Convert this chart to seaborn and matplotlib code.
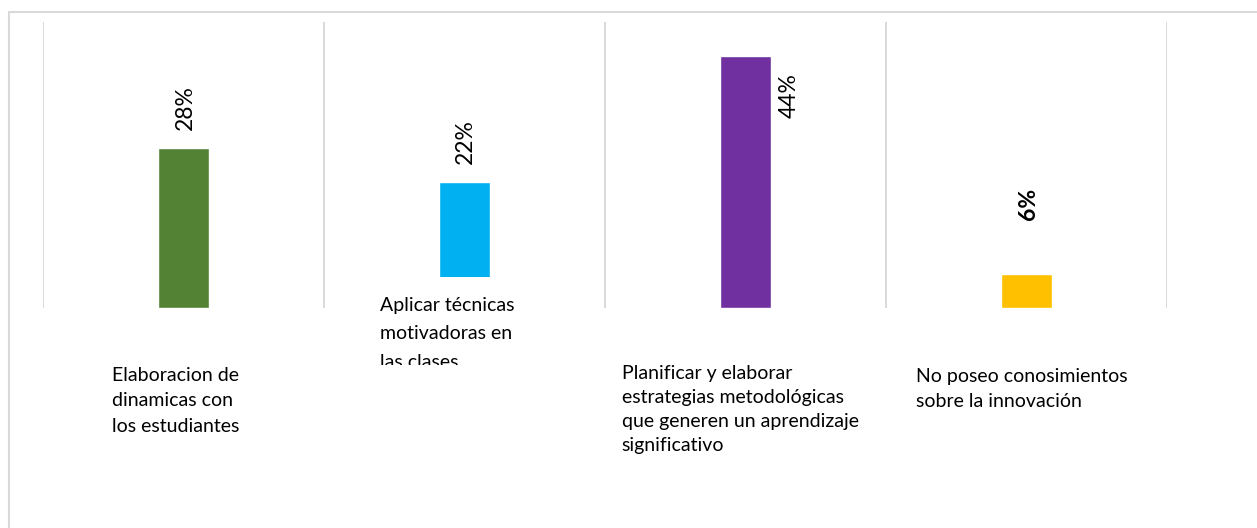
import matplotlib.pyplot as plt
import seaborn as sns
import pandas as pd
from matplotlib.patches import Rectangle
from matplotlib.transforms import Bbox

# Datos del gráfico
categorias = [
    "Elaboracion de\ndinamicas con\nlos estudiantes",
    "Aplicar técnicas\nmotivadoras en\nlas clases",
    "Planificar y elaborar\nestrategias metodológicas\nque generen un aprendizaje\nsignificativo",
    "No poseo conosimientos\nsobre la innovación",
]
porcentajes = [28, 22, 44, 6]
etiquetas = ["28%", "22%", "44%", "6%"]
colores = ["#548235", "#00B0F0", "#7030A0", "#FFC000"]

sns.set_theme(style="white")
plt.rcParams["font.family"] = ["Lato", "DejaVu Sans"]

W, H = 1257, 528
fig = plt.figure(figsize=(W / 100, H / 100), dpi=100)
ax = fig.add_axes([43 / W, 1 - 308 / H, (1167 - 43) / W, (308 - 22) / H])

df = pd.DataFrame({"cat": categorias, "val": porcentajes})
sns.barplot(data=df, x="cat", y="val", hue="cat", palette=colores,
            width=0.185, legend=False, ax=ax, saturation=1)

ax.set_xlim(-0.5, 3.5)
ax.set_ylim(0, 50)
ax.set_xlabel("")
ax.set_ylabel("")
ax.set_xticks([])
ax.set_yticks([])
for s in ax.spines.values():
    s.set_visible(False)

# líneas verticales entre categorías
for xg in [-0.5, 0.5, 1.5, 2.5, 3.5]:
    ax.axvline(xg, color="#d9d9d9", lw=1.4, zorder=0)

# etiquetas de datos (offsets en pixeles, colocadas a mano como en Excel)
offs = [(2, 18), (1, 18), (44, -17), (2, 54)]
for i, (v, t) in enumerate(zip(porcentajes, etiquetas)):
    dx, dy = offs[i]
    ax.annotate(t, xy=(i, v), xytext=(dx, dy), textcoords="offset pixels",
                rotation=90, ha="center", va="bottom" if dy > 0 else "top",
                fontsize=16.5, color="black",
                fontweight="bold" if i == 3 else "normal")

# etiquetas de categoría
cat_offs = [(-72, -59), (-84, 11), (-124, -57), (-110, -60)]
interlineado = [1.6, 1.82, 1.5, 1.55]
for i, c in enumerate(categorias):
    dx, dy = cat_offs[i]
    txt = ax.annotate(c, xy=(i, 0), xytext=(dx, dy), textcoords="offset pixels",
                      ha="left", va="top", fontsize=14, linespacing=interlineado[i],
                      color="black", annotation_clip=False, zorder=6)
    if i == 1:
        # cuadro de texto que tapa la base de la barra y recorta el texto
        ax.add_patch(Rectangle((375 / W, 1 - 365 / H), 150 / W, 88 / H,
                               transform=fig.transFigure, facecolor="white",
                               edgecolor="none", zorder=5, clip_on=False))
        txt.set_clip_on(True)
        txt.set_clip_box(Bbox([[375, H - 365], [525, H - 277]]))

# borde exterior del área del gráfico
fig.add_artist(Rectangle((8.5 / W, -0.1), 1.2, 1 - 12.5 / H + 0.1,
                         transform=fig.transFigure, fill=False,
                         edgecolor="#d9d9d9", lw=1.5, zorder=10))

fig.savefig("out.png", dpi=100, facecolor="white")
